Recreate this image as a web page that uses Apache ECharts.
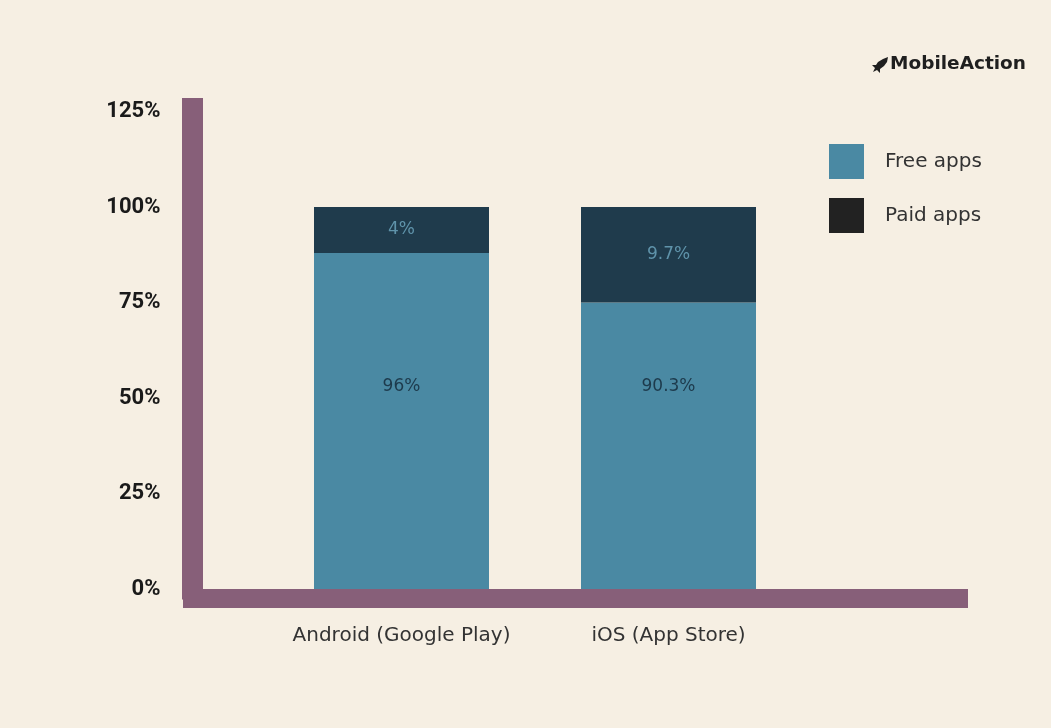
<!DOCTYPE html>
<html>
<head>
<meta charset="utf-8">
<script src="https://cdn.jsdelivr.net/npm/echarts@6/dist/echarts.min.js"></script>
<style>
html,body{margin:0;padding:0;background:#f6efe3;}
#chart{width:1051px;height:728px;}
</style>
</head>
<body>
<div id="chart"></div>
<script>
// ---- data ----
var categories = ['Android (Google Play)', 'iOS (App Store)'];
var seriesNames = ['Free apps', 'Paid apps'];
// bar heights as drawn in the picture (percent of axis)
var freeValues = [88, 75];
var paidValues = [12, 25];
// value labels as printed on the bars
var freeLabels = ['96%', '90.3%'];
var paidLabels = ['4%', '9.7%'];
var yTicks = [0, 25, 50, 75, 100, 125];

var MAUVE = '#875f79';
var FREE = '#4a89a3';
var PAID = '#1f3b4c';

var chart = echarts.init(document.getElementById('chart'));
var yMax = 125.8;

chart.setOption({
  backgroundColor: '#f6efe3',
  animation: false,
  grid: [
    {left: 192.5, right: 92.5, top: 108.5, bottom: 139},
    {left: 268, right: 249, top: 108.5, bottom: 139}
  ],
  xAxis: [
    {
      gridIndex: 0, type: 'value', min: 0, max: 1, offset: 9.5,
      axisLine: {show: true, onZero: false, lineStyle: {color: MAUVE, width: 19, cap: 'square'}},
      axisTick: {show: false}, axisLabel: {show: false}, splitLine: {show: false}
    },
    {
      gridIndex: 1, type: 'category', data: categories,
      axisLine: {show: false}, axisTick: {show: false}, splitLine: {show: false},
      axisLabel: {interval: 0, color: '#333333', fontSize: 20, fontFamily: 'DejaVu Sans', margin: 37}
    }
  ],
  yAxis: [
    {
      gridIndex: 0, type: 'value', min: 0, max: yMax, interval: 25,
      axisLine: {show: true, onZero: false, lineStyle: {color: MAUVE, width: 21, cap: 'square'}},
      axisTick: {show: false}, splitLine: {show: false},
      axisLabel: {
        margin: 32, color: '#1a1a1a', fontSize: 22, fontWeight: 'bold', fontFamily: 'Roboto',
        formatter: function (v) { return yTicks.indexOf(v) >= 0 ? v + '%' : ''; }
      }
    },
    {
      gridIndex: 1, type: 'value', min: 0, max: yMax, show: false,
      splitLine: {show: false}
    }
  ],
  legend: {
    orient: 'vertical', left: 829, top: 144, padding: 0,
    itemWidth: 35, itemHeight: 35, itemGap: 19, icon: 'rect',
    textStyle: {color: '#333333', fontSize: 20, fontFamily: 'DejaVu Sans', padding: [0, 0, 0, 16]},
    data: [
      {name: seriesNames[0]},
      {name: seriesNames[1], itemStyle: {color: '#222222'}}
    ]
  },
  graphic: [
    {
      type: 'text', right: 25, top: 55,
      style: {text: 'MobileAction', font: 'bold 18.5px "DejaVu Sans"', fill: '#1f1f1f'}
    },
    {
      type: 'polygon', left: 872, top: 57,
      shape: {points: [[16, 0], [11, 2], [6, 5], [4, 8], [0, 8], [3, 11], [1, 15], [5, 13], [8, 16], [8, 12], [12, 9], [15, 5]]},
      style: {fill: '#1f1f1f'}
    }
  ],
  series: [
    {
      name: seriesNames[0], type: 'bar', stack: 'total',
      xAxisIndex: 1, yAxisIndex: 1, barWidth: 175,
      data: freeValues,
      itemStyle: {color: FREE},
      label: {
        show: true, position: 'insideBottom', distance: 194,
        color: '#1d3a4c', fontSize: 17, fontFamily: 'DejaVu Sans',
        formatter: function (p) { return freeLabels[p.dataIndex]; }
      }
    },
    {
      name: seriesNames[1], type: 'bar', stack: 'total',
      xAxisIndex: 1, yAxisIndex: 1, barWidth: 175,
      data: paidValues,
      itemStyle: {color: PAID},
      label: {
        show: true, position: 'inside',
        color: '#5f93aa', fontSize: 17, fontFamily: 'DejaVu Sans',
        formatter: function (p) { return paidLabels[p.dataIndex]; }
      }
    }
  ]
});
</script>
</body>
</html>
